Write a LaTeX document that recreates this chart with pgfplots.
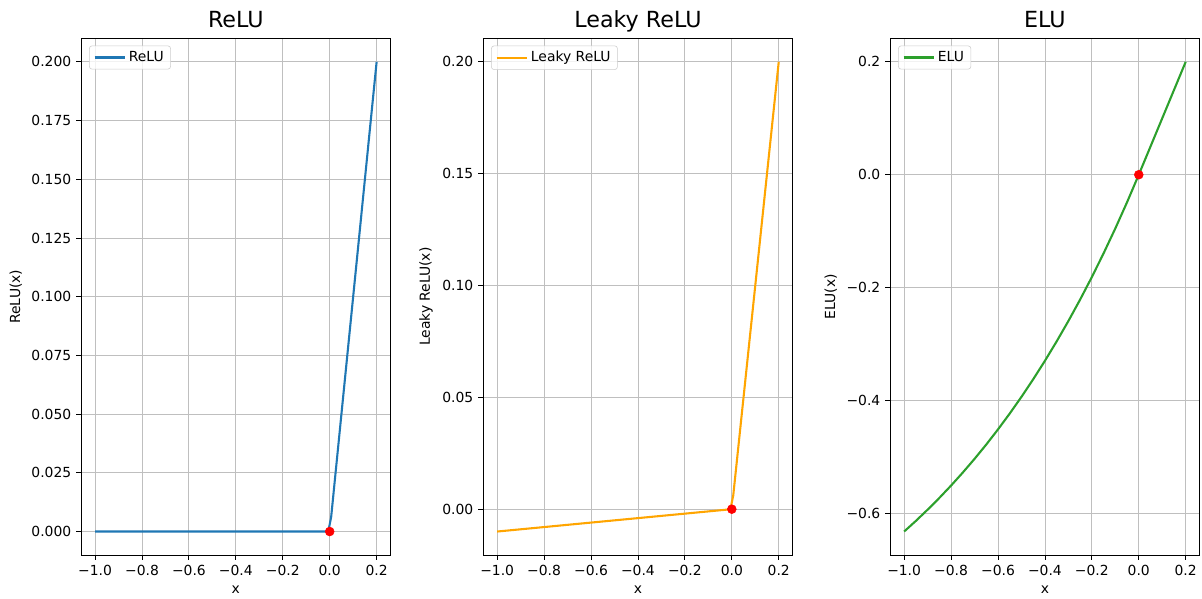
\documentclass[border=0pt]{standalone}
\usepackage{pgfplots}
\pgfplotsset{compat=1.18}
\usepackage{fontspec}
\setmainfont{DejaVu Sans}
\definecolor{c0}{HTML}{1F77B4}
\definecolor{corange}{HTML}{FFA500}
\definecolor{cgreen}{HTML}{2CA02C}
\pgfplotsset{
  mpl/.style={
    scale only axis, width=223pt, height=372pt,
    anchor=south west,
    grid=major, grid style={color=black!25, line width=0.6pt},
    axis line style={line width=0.6pt},
    tick align=outside, xtick pos=bottom, ytick pos=left,
    major tick length=3.5pt, tick style={line width=0.6pt, black},
    ticklabel style={font=\fontsize{10}{12}\selectfont},
    label style={font=\fontsize{10}{12}\selectfont},
    title style={font=\fontsize{16}{19}\selectfont, at={(0.5,1)}, anchor=base, yshift=2pt},
    xmin=-1.06, xmax=0.26,
    xtick={-1,-0.8,-0.6,-0.4,-0.2,0,0.2},
    xticklabels={−1.0,−0.8,−0.6,−0.4,−0.2,0.0,0.2},
    xlabel={x},
    xlabel style={yshift=-1pt},
    legend style={at={(0.026,0.986)}, anchor=north west, draw=black!20, rounded corners=2pt, fill=white, fill opacity=0.8, text opacity=1, font=\fontsize{10}{12}\selectfont, inner xsep=3pt, inner ysep=2pt},
    legend cell align=left,
    legend image code/.code={\draw[#1] (0pt,0pt) -- (22pt,0pt);},
  }
}
\begin{document}
\begin{tikzpicture}
\path[use as bounding box] (0,0) rectangle (865.4pt,430.6pt);
% ReLU
\begin{axis}[mpl, at={(58.3pt,31pt)}, title={ReLU}, ylabel={ReLU(x)},
  ymin=-0.01, ymax=0.21,
  ytick={0,0.025,0.05,0.075,0.1,0.125,0.15,0.175,0.2},
  yticklabels={0.000,0.025,0.050,0.075,0.100,0.125,0.150,0.175,0.200}]
\addplot[c0, line width=1.5pt] coordinates {(-1,0) (-0.00606,0) (0.00606,0.00606) (0.2,0.2)};
\addlegendentry{ReLU}
\addplot[only marks, mark=*, mark size=3.2pt, red, forget plot] coordinates {(0,0)};
\end{axis}
% Leaky ReLU
\begin{axis}[mpl, at={(347.8pt,31pt)}, title={Leaky ReLU}, ylabel={Leaky ReLU(x)},
  ymin=-0.0205, ymax=0.2105,
  ytick={0,0.05,0.1,0.15,0.2},
  yticklabels={0.00,0.05,0.10,0.15,0.20}]
\addplot[corange, line width=1.5pt] coordinates {(-1,-0.01) (-0.00606,-0.0000606) (0.00606,0.00606) (0.2,0.2)};
\addlegendentry{Leaky ReLU}
\addplot[only marks, mark=*, mark size=3.2pt, red, forget plot] coordinates {(0,0)};
\end{axis}
% ELU
\begin{axis}[mpl, at={(640.8pt,31pt)}, title={ELU}, ylabel={ELU(x)},
  ymin=-0.6737, ymax=0.2416,
  ytick={-0.6,-0.4,-0.2,0,0.2},
  yticklabels={−0.6,−0.4,−0.2,0.0,0.2}]
\addplot[cgreen, line width=1.5pt] coordinates {
(-1.0,-0.6321) (-0.95,-0.6133) (-0.9,-0.5934) (-0.85,-0.5726) (-0.8,-0.5507)
(-0.75,-0.5276) (-0.7,-0.5034) (-0.65,-0.4780) (-0.6,-0.4512) (-0.55,-0.4231)
(-0.5,-0.3935) (-0.45,-0.3624) (-0.4,-0.3297) (-0.35,-0.2953) (-0.3,-0.2592)
(-0.25,-0.2212) (-0.2,-0.1813) (-0.15,-0.1393) (-0.1,-0.0952) (-0.05,-0.0488)
(0,0) (0.1,0.1) (0.2,0.2)};
\addlegendentry{ELU}
\addplot[only marks, mark=*, mark size=3.2pt, red, forget plot] coordinates {(0,0)};
\end{axis}
\end{tikzpicture}
\end{document}
